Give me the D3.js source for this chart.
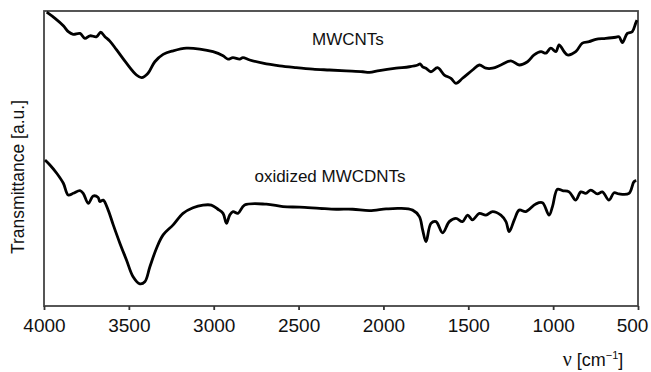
<!DOCTYPE html>
<html>
<head>
<meta charset="utf-8">
<script src="https://cdn.jsdelivr.net/npm/d3@7"></script>
<style>
  body { margin: 0; background: #fff; }
  text { font-family: "Liberation Sans", Arial, sans-serif; fill: #111; }
</style>
</head>
<body>
<svg id="chart" width="651" height="372"></svg>
<script>
// wavenumber [cm-1] and transmittance [a.u.]
let mwcntWave = [3984, 3935, 3886, 3857, 3828, 3788, 3759, 3729, 3690, 3666, 3641, 3612, 3572, 3514, 3455, 3425,
  3387, 3347, 3298, 3239, 3161, 3082, 3004, 2945, 2916, 2887, 2847, 2828, 2788, 2710, 2612, 2514, 2416, 2318,
  2220, 2122, 2082, 2024, 1925, 1847, 1798, 1784, 1769, 1749, 1720, 1681, 1641, 1602, 1573, 1534, 1475, 1435,
  1396, 1357, 1308, 1249, 1200, 1151, 1112, 1072, 1043, 1014, 984, 965, 935, 916, 867, 828, 788, 749, 690,
  631, 612, 592, 563, 534, 514, 506]
let mwcntT = [99.6, 97.5, 95.0, 93.0, 92.1, 92.4, 90.7, 91.6, 91.3, 92.8, 91.3, 89.8, 86.8, 82.3, 78.3, 77.4,
  78.9, 82.8, 85.3, 86.5, 87.4, 87.1, 86.2, 84.8, 83.7, 84.2, 83.7, 84.2, 83.4, 82.3, 81.4, 80.8, 80.3, 80.0,
  79.7, 79.4, 79.2, 79.8, 80.6, 81.1, 81.7, 82.1, 81.1, 80.6, 79.4, 80.8, 78.3, 77.2, 75.5, 77.2, 80.0, 81.7,
  80.6, 80.6, 81.7, 83.1, 81.7, 82.8, 85.1, 86.2, 85.7, 87.4, 86.2, 88.5, 86.2, 85.1, 86.2, 89.1, 89.6, 90.4, 90.7,
  91.1, 91.3, 89.3, 92.4, 93.0, 95.8, 96.9]

let oxWave = [3994, 3965, 3925, 3886, 3857, 3828, 3788, 3769, 3739, 3710, 3681, 3671, 3651, 3622, 3592, 3553,
  3514, 3475, 3435, 3406, 3376, 3337, 3298, 3239, 3181, 3122, 3063, 3014, 2975, 2945, 2925, 2906, 2886, 2857,
  2818, 2690, 2592, 2494, 2376, 2278, 2181, 2082, 1984, 1906, 1828, 1788, 1769, 1749, 1720, 1690, 1651, 1612,
  1573, 1534, 1504, 1475, 1435, 1396, 1357, 1308, 1278, 1259, 1229, 1200, 1161, 1102, 1063, 1024, 1004, 975,
  945, 906, 867, 837, 808, 778, 739, 710, 671, 641, 612, 553, 524, 510]
let oxT = [49.5, 47.8, 45.0, 41.6, 37.6, 38.2, 39.1, 38.2, 34.8, 37.3, 36.8, 35.4, 35.9, 32.5, 27.5, 21.3,
  15.6, 9.9, 7.5, 8.2, 13.3, 19.6, 24.1, 27.5, 31.4, 33.3, 34.2, 34.2, 32.8, 31.4, 28.0, 30.8, 32.0, 31.4,
  34.2, 34.5, 33.7, 33.5, 33.1, 32.8, 32.8, 32.3, 32.9, 33.1, 32.5, 30.3, 25.8, 21.8, 28.0, 28.6, 24.8, 28.6,
  29.7, 28.6, 30.8, 29.2, 31.4, 30.8, 32.0, 30.8, 28.6, 25.2, 29.2, 32.5, 32.0, 34.6, 35.0, 30.8, 33.7, 39.6,
  39.1, 38.7, 35.9, 38.7, 38.2, 39.3, 38.0, 38.7, 35.9, 38.4, 38.0, 38.2, 42.1, 42.5]

let xTicks = [4000, 3500, 3000, 2500, 2000, 1500, 1000, 500]
let seriesNames = ["MWCNTs", "oxidized MWCDNTs"]

let svg = d3.select("#chart")
let plotLeft = 44, plotRight = 638, plotTop = 11, plotBottom = 306

let x = d3.scaleLinear().domain([4000, 500]).range([plotLeft, plotRight])
let y = d3.scaleLinear().domain([0, 100]).range([plotBottom, plotTop])

// frame
svg.append("rect")
  .attr("x", plotLeft)
  .attr("y", plotTop)
  .attr("width", plotRight - plotLeft)
  .attr("height", plotBottom - plotTop)
  .style("fill", "none")
  .style("stroke", "#444")
  .style("stroke-width", 1.8)

let xAxis = svg.append("g")
  .attr("transform", "translate(0," + plotBottom + ")")
  .call(d3.axisBottom(x).tickValues(xTicks).tickSize(4).tickPadding(9).tickFormat(d3.format("d")))
xAxis.select(".domain").remove()
xAxis.selectAll("line").style("stroke", "#333").style("stroke-width", 1.8)
xAxis.selectAll("text")
  .style("font-size", "19px")
  .style("font-family", "'Liberation Sans', Arial, sans-serif")
  .style("fill", "#111")
// last label sits a bit left so it stays inside the picture
xAxis.selectAll(".tick").filter(d => d === 500).select("text").attr("dx", -6)

let line = d3.line()
  .x(d => x(d[0]))
  .y(d => y(d[1]))
  .curve(d3.curveCatmullRom.alpha(0.5))

let series = [
  d3.zip(mwcntWave, mwcntT),
  d3.zip(oxWave, oxT)
]

series.forEach(s => {
  svg.append("path")
    .datum(s)
    .attr("d", line)
    .style("fill", "none")
    .style("stroke", "#000")
    .style("stroke-width", 2.8)
    .style("stroke-linejoin", "round")
})

svg.append("text")
  .attr("x", 348)
  .attr("y", 45)
  .attr("text-anchor", "middle")
  .style("font-size", "17px")
  .text(seriesNames[0])

svg.append("text")
  .attr("x", 330)
  .attr("y", 182)
  .attr("text-anchor", "middle")
  .style("font-size", "17px")
  .text(seriesNames[1])

svg.append("text")
  .attr("transform", "translate(24,177) rotate(-90)")
  .attr("text-anchor", "middle")
  .style("font-size", "17.5px")
  .text("Transmittance [a.u.]")

let xl = svg.append("text")
  .attr("x", 593)
  .attr("y", 366)
  .attr("text-anchor", "middle")
  .style("font-size", "18px")
xl.append("tspan").style("font-family", "'Liberation Serif', serif").style("font-size", "20px").text("ν")
xl.append("tspan").text(" [cm")
xl.append("tspan").attr("dy", -7).style("font-size", "11px").text("−1")
xl.append("tspan").attr("dy", 7).text("]")
</script>
</body>
</html>
